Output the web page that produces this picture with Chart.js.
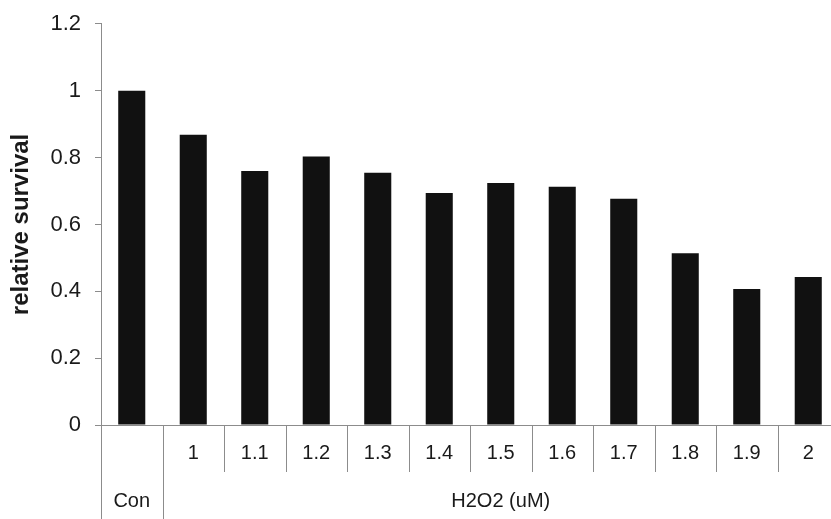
<!DOCTYPE html>
<html>
<head>
<meta charset="utf-8">
<script src="https://cdn.jsdelivr.net/npm/chart.js@4/dist/chart.umd.min.js"></script>
<style>
  html, body { margin: 0; padding: 0; background: #fff; overflow: hidden; width: 831px; height: 519px; }
  #wrap { position: absolute; left: 0; top: 0; width: 845px; height: 519px; }
</style>
</head>
<body>
<div id="wrap"><canvas id="c" width="845" height="519"></canvas></div>
<script>
// ---- data ----
const categories = ['Con', '1', '1.1', '1.2', '1.3', '1.4', '1.5', '1.6', '1.7', '1.8', '1.9', '2'];
const survival = [1.0, 0.868, 0.760, 0.803, 0.755, 0.694, 0.724, 0.713, 0.677, 0.514, 0.407, 0.443];
const yTicks = [0, 0.2, 0.4, 0.6, 0.8, 1, 1.2];
const groupLabels = ['Con', 'H2O2 (uM)'];
const groupStart = [0, 1];
const groupEnd = [0, 11];
const yTitle = 'relative survival';

const FONT = '"Liberation Sans", Arial, sans-serif';
const LINE = '#8c8c8c';
const TEXT = '#1a1a1a';

function singleCellGroup(i) {
  for (let g = 0; g < groupLabels.length; g++) {
    if (groupStart[g] === groupEnd[g] && groupStart[g] === i) return true;
  }
  return false;
}

const tablePlugin = {
  id: 'tablePlugin',
  afterDraw(chart) {
    const ctx = chart.ctx;
    const xs = chart.scales.x;
    const top = chart.chartArea.bottom;
    const half = (xs.getPixelForValue(1) - xs.getPixelForValue(0)) / 2;
    const bottom = chart.height;
    const row1Bottom = top + 47;
    ctx.save();
    ctx.strokeStyle = LINE;
    ctx.lineWidth = 1;
    for (let i = 0; i < categories.length; i++) {
      const x = Math.round(xs.getPixelForValue(i) - half) + 0.5;
      const full = groupStart.includes(i);
      ctx.beginPath();
      ctx.moveTo(x, top);
      ctx.lineTo(x, full ? bottom : row1Bottom);
      ctx.stroke();
    }
    ctx.fillStyle = TEXT;
    ctx.font = '20px ' + FONT;
    ctx.textAlign = 'center';
    ctx.textBaseline = 'middle';
    for (let g = 0; g < groupLabels.length; g++) {
      const x0 = xs.getPixelForValue(groupStart[g]) - half;
      const x1 = xs.getPixelForValue(groupEnd[g]) + half;
      ctx.fillText(groupLabels[g], (x0 + x1) / 2, 501);
    }
    ctx.restore();
  }
};

new Chart(document.getElementById('c'), {
  type: 'bar',
  data: {
    labels: categories,
    datasets: [{
      data: survival,
      backgroundColor: '#111111',
      borderWidth: 0,
      barPercentage: 0.44,
      categoryPercentage: 1.0
    }]
  },
  options: {
    responsive: false,
    animation: false,
    devicePixelRatio: 1,
    layout: { padding: { top: 20, right: 6, left: 0, bottom: 0 } },
    plugins: { legend: { display: false }, tooltip: { enabled: false } },
    scales: {
      x: {
        grid: { display: false, drawOnChartArea: false, drawTicks: false },
        border: { display: true, color: LINE, width: 1 },
        ticks: {
          color: TEXT,
          font: { family: FONT, size: 20 },
          padding: 16,
          maxRotation: 0,
          autoSkip: false,
          callback: function (v, i) {
            return singleCellGroup(i) ? '' : categories[i];
          }
        },
        afterFit(scale) { scale.height = 94; }
      },
      y: {
        min: 0,
        max: 1.2,
        afterBuildTicks(scale) { scale.ticks = yTicks.map(v => ({ value: v })); },
        grid: { drawOnChartArea: false, drawTicks: true, tickLength: 6, color: LINE },
        border: { display: true, color: LINE, width: 1 },
        ticks: {
          color: TEXT,
          font: { family: FONT, size: 22, lineHeight: 0.9 },
          padding: 14,
          callback: v => String(Math.round(v * 10) / 10)
        },
        title: {
          display: true,
          text: yTitle,
          color: TEXT,
          font: { family: FONT, size: 24, weight: 'bold' },
          padding: { top: 7, bottom: 0 }
        },
        afterFit(scale) { scale.width = 101; }
      }
    }
  },
  plugins: [tablePlugin]
});
</script>
</body>
</html>
